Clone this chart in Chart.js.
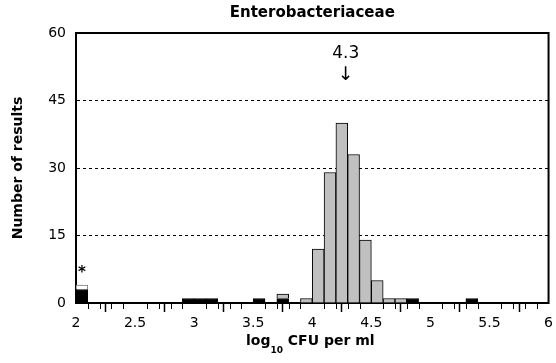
<!DOCTYPE html>
<html><head><meta charset="utf-8">
<script src="https://cdn.jsdelivr.net/npm/chart.js@4.4.1/dist/chart.umd.min.js"></script>
<style>html,body{margin:0;padding:0;background:#fff}#wrap{width:556px;height:363px}</style>
</head><body><div id="wrap"><canvas id="c" width="556" height="363"></canvas></div>
<script>
const chartTitle = 'Enterobacteriaceae';
const yAxisTitle = 'Number of results';
const binCenters = [2.05,2.15,2.25,2.35,2.45,2.55,2.65,2.75,2.85,2.95,
                    3.05,3.15,3.25,3.35,3.45,3.55,3.65,3.75,3.85,3.95,
                    4.05,4.15,4.25,4.35,4.45,4.55,4.65,4.75,4.85,4.95,
                    5.05,5.15,5.25,5.35,5.45,5.55,5.65,5.75,5.85,5.95];
const blackCounts = [3,0,0,0,0,0,0,0,0,1,
                     1,1,0,0,0,1,0,1,0,0,
                     0,0,0,0,0,0,0,0,1,0,
                     0,0,0,1,0,0,0,0,0,0];
const grayCounts  = [0,0,0,0,0,0,0,0,0,0,
                     0,0,0,0,0,0,0,1,0,1,
                     12,29,40,33,14,5,1,1,0,0,
                     0,0,0,0,0,0,0,0,0,0];
const whiteCounts = [1,0,0,0,0,0,0,0,0,0,
                     0,0,0,0,0,0,0,0,0,0,
                     0,0,0,0,0,0,0,0,0,0,
                     0,0,0,0,0,0,0,0,0,0];
const xTickValues = [2,2.5,3,3.5,4,4.5,5,5.5,6];
const xMinorTickValues = [2.1,2.2,2.3,2.4,2.6,2.7,2.8,2.9,3.1,3.2,3.3,3.4,3.6,3.7,3.8,3.9,
                          4.1,4.2,4.3,4.4,4.6,4.7,4.8,4.9,5.1,5.2,5.3,5.4,5.6,5.7,5.8,5.9];
const yTickValues = [0,15,30,45,60];
const medianValue = 4.3;
const medianLabel = '4.3';
const starBin = 2.05;

const FAM = '"DejaVu Sans", "Liberation Sans", Arial, sans-serif';

function pts(arr){ return binCenters.map((x,i)=>({x:x, y: arr[i] ? arr[i] : null})); }

const decor = {
  id:'decor',
  afterDraw(chart){
    const {ctx, chartArea:a, scales:{x, y}} = chart;
    ctx.save();
    // frame top & right
    ctx.strokeStyle = '#000'; ctx.lineWidth = 2;
    ctx.beginPath();
    ctx.moveTo(a.left-1, a.top); ctx.lineTo(a.right, a.top); ctx.lineTo(a.right, a.bottom+1);
    ctx.stroke();
    // minor ticks
    ctx.lineWidth = 1;
    ctx.beginPath();
    xMinorTickValues.forEach(v=>{
      const px = Math.round(x.getPixelForValue(v)) + 0.5;
      ctx.moveTo(px, a.bottom); ctx.lineTo(px, a.bottom + 6);
    });
    ctx.stroke();
    ctx.fillStyle = '#000';
    // title
    ctx.font = 'bold 15px ' + FAM;
    ctx.textAlign = 'center'; ctx.textBaseline = 'alphabetic';
    ctx.fillText(chartTitle, (a.left + a.right)/2, 17);
    // median annotation
    const mx = x.getPixelForValue(medianValue) - 2;
    ctx.font = '17px ' + FAM;
    ctx.fillText(medianLabel, mx, 58);
    ctx.font = '19px ' + FAM;
    ctx.fillText('\u2193', mx, 80);
    // asterisk
    ctx.font = 'bold 15px ' + FAM;
    ctx.fillText('*', x.getPixelForValue(starBin), y.getPixelForValue(4) - 8);
    // x axis title with subscript
    const p1 = 'log', p2 = '10', p3 = ' CFU per ml';
    ctx.font = 'bold 14px ' + FAM;
    const w1 = ctx.measureText(p1).width, w3 = ctx.measureText(p3).width;
    ctx.font = 'bold 9px ' + FAM;
    const w2 = ctx.measureText(p2).width;
    let sx = (a.left + a.right)/2 - 2 - (w1+w2+w3)/2;
    ctx.textAlign = 'left';
    ctx.font = 'bold 14px ' + FAM;
    ctx.fillText(p1, sx, 345);
    ctx.font = 'bold 9px ' + FAM;
    ctx.fillText(p2, sx + w1, 353);
    ctx.font = 'bold 14px ' + FAM;
    ctx.fillText(p3, sx + w1 + w2, 345);
    ctx.restore();
  }
};

new Chart(document.getElementById('c'), {
  type:'bar',
  data:{
    datasets:[
      {label:'black', data:pts(blackCounts), backgroundColor:'#000', borderColor:'#000', borderWidth:1},
      {label:'gray', data:pts(grayCounts), backgroundColor:'#c0c0c0', borderColor:'#000', borderWidth:1},
      {label:'white', data:pts(whiteCounts), backgroundColor:'#fff', borderColor:'#7a7a7a', borderWidth:1}
    ]
  },
  options:{
    responsive:false, animation:false, devicePixelRatio:1,
    layout:{padding:{top:33, right:6, left:0, bottom:0}},
    plugins:{legend:{display:false}, tooltip:{enabled:false}, title:{display:false}},
    datasets:{bar:{barPercentage:1, categoryPercentage:1}},
    scales:{
      x:{
        type:'linear', min:2, max:6, offset:false, stacked:true,
        afterFit(s){ s.height = 60; },
        afterBuildTicks(s){ s.ticks = xTickValues.map(v=>({value:v})); },
        ticks:{font:{family:FAM, size:14}, color:'#000', padding:3, maxRotation:0, autoSkip:false,
               callback:v=>String(v)},
        grid:{drawOnChartArea:false, drawTicks:true, tickLength:9, tickWidth:1.5, tickColor:'#000'},
        border:{display:true, color:'#000', width:2}
      },
      y:{
        min:0, max:60, stacked:true,
        afterFit(s){ s.width = 76; },
        afterBuildTicks(s){ s.ticks = yTickValues.map(v=>({value:v})); },
        ticks:{font:{family:FAM, size:14}, color:'#000', padding:10},
        grid:{drawTicks:false, lineWidth:1,
              color:c=>(c.tick && c.tick.value>0 && c.tick.value<60) ? '#000' : 'rgba(0,0,0,0)'},
        border:{display:true, color:'#000', width:2, dash:[3,3]},
        title:{display:true, text:yAxisTitle, color:'#000',
               font:{family:FAM, size:14, weight:'bold'}, padding:{top:10, bottom:0}}
      }
    }
  },
  plugins:[decor]
});
</script></body></html>
